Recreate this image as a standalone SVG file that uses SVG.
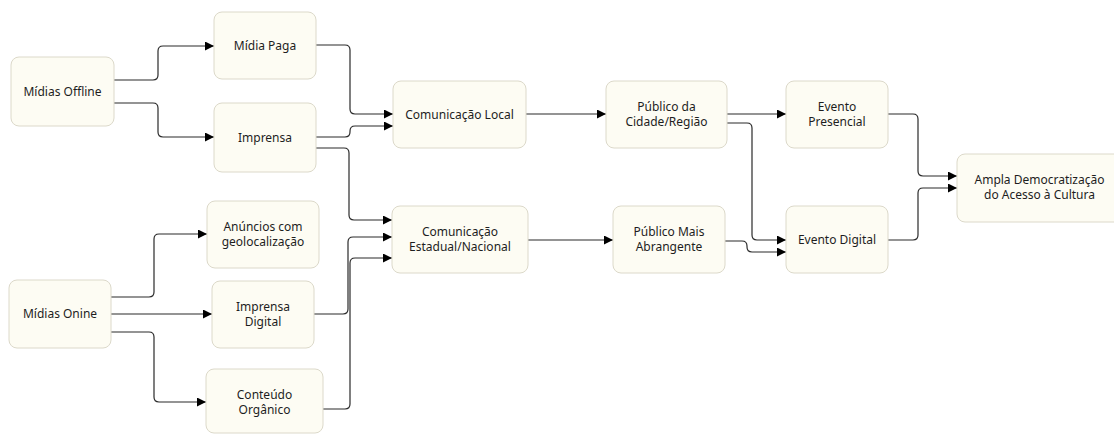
<svg xmlns="http://www.w3.org/2000/svg" width="1114" height="434" viewBox="0 0 1114 434">
<style>
.n{fill:#fdfcf3;stroke:#dcd9ca;stroke-width:1}
.t{font-family:"Noto Sans","Liberation Sans",sans-serif;font-size:12px;fill:#1e1e1e;text-anchor:middle}
.c{fill:none;stroke:#2a2a2a;stroke-width:1.2;marker-end:url(#a)}
</style>
<defs>
<marker id="a" viewBox="0 0 10 10" refX="10" refY="5" markerWidth="9" markerHeight="9" markerUnits="userSpaceOnUse" orient="auto">
<path d="M0,0 L10,5 L0,10 z" fill="#000"/>
</marker>
</defs>
<rect width="1114" height="434" fill="#ffffff"/>
<g id="connectors">
<path class="c" d="M114,80 H153 Q158,80 158,75 V51 Q158,46 163,46 H214"/>
<path class="c" d="M114,103 H153 Q158,103 158,108 V132 Q158,137 163,137 H214"/>
<path class="c" d="M316,45 H345 Q350,45 350,50 V109 Q350,114 355,114 H393"/>
<path class="c" d="M316,137 H345 Q350,137 350,132 V131 Q350,126 355,126 H393"/>
<path class="c" d="M316,148 H344 Q349,148 349,153 V215 Q349,220 354,220 H392"/>
<path class="c" d="M111,297 H149 Q154,297 154,292 V239 Q154,234 159,234 H207"/>
<path class="c" d="M111,314 H212"/>
<path class="c" d="M111,332 H149 Q154,332 154,337 V397 Q154,402 159,402 H206"/>
<path class="c" d="M314,314 H343 Q348,314 348,309 V242 Q348,237 353,237 H392"/>
<path class="c" d="M323,409 H345 Q350,409 350,404 V263 Q350,258 355,258 H392"/>
<path class="c" d="M526,114 H606"/>
<path class="c" d="M528,240 H613"/>
<path class="c" d="M727,114 H786"/>
<path class="c" d="M727,123 H747 Q752,123 752,128 V235 Q752,240 757,240 H786"/>
<path class="c" d="M725,241 H742 Q747,241 747,246 V247 Q747,252 752,252 H786"/>
<path class="c" d="M888,114 H913 Q918,114 918,119 V171 Q918,176 923,176 H957"/>
<path class="c" d="M888,240 H913 Q918,240 918,235 V193 Q918,188 923,188 H957"/>
</g>
<g id="midias-offline"><rect class="n" x="11" y="57" width="103" height="69" rx="8"/><text class="t" x="62.5" y="95.5">Mídias Offline</text></g>
<g id="midia-paga"><rect class="n" x="214" y="12" width="102" height="67" rx="8"/><text class="t" x="265" y="49.5">Mídia Paga</text></g>
<g id="imprensa"><rect class="n" x="214" y="103" width="102" height="69" rx="8"/><text class="t" x="265" y="141.5">Imprensa</text></g>
<g id="anuncios"><rect class="n" x="207" y="201" width="112" height="67" rx="8"/><text class="t" x="263" y="230.5">Anúncios com</text><text class="t" x="263" y="245.5">geolocalização</text></g>
<g id="midias-onine"><rect class="n" x="9" y="280" width="102" height="68" rx="8"/><text class="t" x="60" y="318">Mídias Onine</text></g>
<g id="imprensa-digital"><rect class="n" x="212" y="281" width="102" height="67" rx="8"/><text class="t" x="263" y="310.5">Imprensa</text><text class="t" x="263" y="325.5">Digital</text></g>
<g id="conteudo-organico"><rect class="n" x="206" y="369" width="117" height="64" rx="8"/><text class="t" x="264.5" y="398.5">Conteúdo</text><text class="t" x="264.5" y="413.5">Orgânico</text></g>
<g id="comunicacao-local"><rect class="n" x="393" y="81" width="133" height="67" rx="8"/><text class="t" x="459.5" y="118.5">Comunicação Local</text></g>
<g id="comunicacao-estadual"><rect class="n" x="392" y="206" width="136" height="67" rx="8"/><text class="t" x="460" y="235.5">Comunicação</text><text class="t" x="460" y="250.5">Estadual/Nacional</text></g>
<g id="publico-cidade"><rect class="n" x="606" y="81" width="121" height="67" rx="8"/><text class="t" x="666.5" y="110.5">Público da</text><text class="t" x="666.5" y="125.5">Cidade/Região</text></g>
<g id="publico-mais"><rect class="n" x="613" y="206" width="112" height="67" rx="8"/><text class="t" x="669" y="235.5">Público Mais</text><text class="t" x="669" y="250.5">Abrangente</text></g>
<g id="evento-presencial"><rect class="n" x="786" y="81" width="102" height="67" rx="8"/><text class="t" x="837" y="110.5">Evento</text><text class="t" x="837" y="125.5">Presencial</text></g>
<g id="evento-digital"><rect class="n" x="786" y="206" width="102" height="67" rx="8"/><text class="t" x="837" y="244">Evento Digital</text></g>
<g id="ampla"><rect class="n" x="957" y="154" width="165" height="68" rx="8"/><text class="t" x="1039.5" y="183.5">Ampla Democratização</text><text class="t" x="1039.5" y="198.5">do Acesso à Cultura</text></g>
</svg>
